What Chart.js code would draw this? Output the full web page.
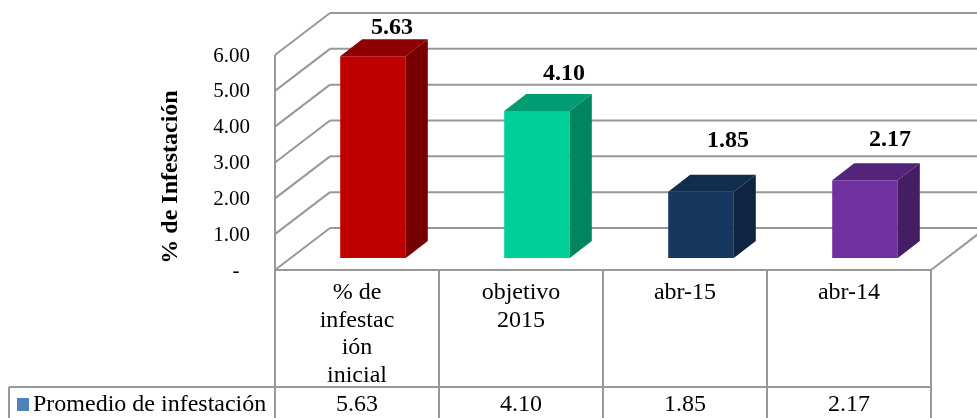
<!DOCTYPE html>
<html>
<head>
<meta charset="utf-8">
<style>
    html, body { margin: 0; padding: 0; background: #fff; overflow: hidden; }
    canvas { display: block; }
</style>
<script src="https://cdn.jsdelivr.net/npm/chart.js@4"></script>
</head>
<body>
<canvas id="myChart" width="977" height="418"></canvas>
<script>
const seriesName = 'Promedio de infestación';
const axisTitle = '% de Infestación';
const categories = [['% de', 'infestac', 'ión', 'inicial'], ['objetivo', '2015'], ['abr-15'], ['abr-14']];
const values = [5.63, 4.10, 1.85, 2.17];
const yTicks = [0, 1, 2, 3, 4, 5, 6];

const frontColors = ['#c00000', '#00d098', '#17375e', '#7030a0'];
const topColors = ['#8f0000', '#009c72', '#122c4c', '#54247a'];
const sideColors = ['#760000', '#008560', '#0f2440', '#451d63'];
// hand placed labels in the original, distance from the bar top
const labelShift = [[19, -28], [27, -37], [27, -51], [25, -40]];

const serif = '"Liberation Serif", "Times New Roman", serif';
const lineColor = '#989898';

const wall = { dx: 55, dy: -42 };
const barShift = { dx: 16, dy: -12 };
const barDepth = { dx: 22, dy: -17 };

function poly(ctx, pts, color) {
    ctx.fillStyle = color;
    ctx.beginPath();
    pts.forEach((p, i) => i ? ctx.lineTo(p[0], p[1]) : ctx.moveTo(p[0], p[1]));
    ctx.closePath();
    ctx.fill();
}

function line(ctx, x1, y1, x2, y2) {
    ctx.beginPath();
    ctx.moveTo(x1, y1);
    ctx.lineTo(x2, y2);
    ctx.stroke();
}

const walls = {
    id: 'walls',
    beforeDatasetsDraw(chart) {
        const { ctx, scales: { x, y }, chartArea: area } = chart;
        ctx.save();
        ctx.strokeStyle = lineColor;
        ctx.lineWidth = 2;
        yTicks.forEach(v => {
            const py = y.getPixelForValue(v);
            line(ctx, area.left, py, area.left + wall.dx, py + wall.dy);
            line(ctx, area.left + wall.dx, py + wall.dy, chart.width, py + wall.dy);
        });
        // left wall edge and floor edges
        line(ctx, area.left, area.top, area.left, chart.height);
        line(ctx, area.left, area.bottom, area.right, area.bottom);
        line(ctx, area.right, area.bottom, area.right + wall.dx, area.bottom + wall.dy);
        // data table
        const edge = i => x.getPixelForValue(i) + (x.getPixelForValue(1) - x.getPixelForValue(0)) / 2;
        categories.forEach((c, i) => line(ctx, edge(i), area.bottom, edge(i), chart.height));
        line(ctx, 9, 387, area.right, 387);
        line(ctx, 9, 387, 9, chart.height);
        ctx.restore();
    },
    beforeDatasetDraw(chart) {
        chart.ctx.save();
        chart.ctx.translate(barShift.dx, barShift.dy);
    },
    afterDatasetDraw(chart, args) {
        const ctx = chart.ctx;
        args.meta.data.forEach((bar, i) => {
            const r = bar.x + bar.width / 2;
            const l = bar.x - bar.width / 2;
            const d = barDepth;
            poly(ctx, [[l, bar.y], [r, bar.y], [r + d.dx, bar.y + d.dy], [l + d.dx, bar.y + d.dy]], topColors[i]);
            poly(ctx, [[r, bar.y], [r, bar.base], [r + d.dx, bar.base + d.dy], [r + d.dx, bar.y + d.dy]], sideColors[i]);
        });
        ctx.restore();
    },
    afterDraw(chart) {
        const { ctx, scales: { x } } = chart;
        const meta = chart.getDatasetMeta(0);
        ctx.save();
        ctx.fillStyle = '#000';
        ctx.textAlign = 'center';
        ctx.textBaseline = 'middle';

        ctx.font = 'bold 24px ' + serif;
        meta.data.forEach((bar, i) => {
            ctx.fillText(values[i].toFixed(2), bar.x + barShift.dx + labelShift[i][0], bar.y + barShift.dy + labelShift[i][1]);
        });

        ctx.font = '24px ' + serif;
        values.forEach((v, i) => ctx.fillText(v.toFixed(2), x.getPixelForValue(i), 405));

        ctx.textAlign = 'left';
        ctx.fillText(seriesName, 33, 405);
        ctx.fillStyle = '#4f81bd';
        ctx.fillRect(17, 398, 12, 13);

        ctx.fillStyle = '#000';
        ctx.textAlign = 'center';
        ctx.font = 'bold 24px ' + serif;
        ctx.translate(171, 177);
        ctx.rotate(-Math.PI / 2);
        ctx.fillText(axisTitle, 0, 0);
        ctx.restore();
    }
};

new Chart(document.getElementById('myChart'), {
    type: 'bar',
    plugins: [walls],
    data: {
        labels: categories,
        datasets: [{
            label: seriesName,
            data: values,
            backgroundColor: frontColors,
            categoryPercentage: 1,
            barPercentage: 0.4,
            clip: false
        }]
    },
    options: {
        responsive: false,
        animation: false,
        layout: { padding: { top: 55, right: 46, left: 0, bottom: 0 } },
        plugins: { legend: { display: false }, tooltip: { enabled: false } },
        scales: {
            x: {
                grid: { display: false, drawTicks: false },
                border: { display: false },
                afterFit(scale) { scale.height = 148; },
                ticks: {
                    autoSkip: false,
                    maxRotation: 0,
                    padding: 9,
                    color: '#000',
                    font: { family: serif, size: 24, lineHeight: 1.146 }
                }
            },
            y: {
                min: 0,
                max: 6,
                grid: { display: false, drawTicks: false },
                border: { display: false },
                afterFit(scale) { scale.width = 275; },
                afterBuildTicks(scale) { scale.ticks = yTicks.map(v => ({ value: v })); },
                ticks: {
                    padding: 25,
                    labelOffset: 1,
                    color: '#000',
                    font: { family: serif, size: 21 },
                    callback: v => v === 0 ? '-  ' : v.toFixed(2)
                }
            }
        }
    }
});
</script>
</body>
</html>
